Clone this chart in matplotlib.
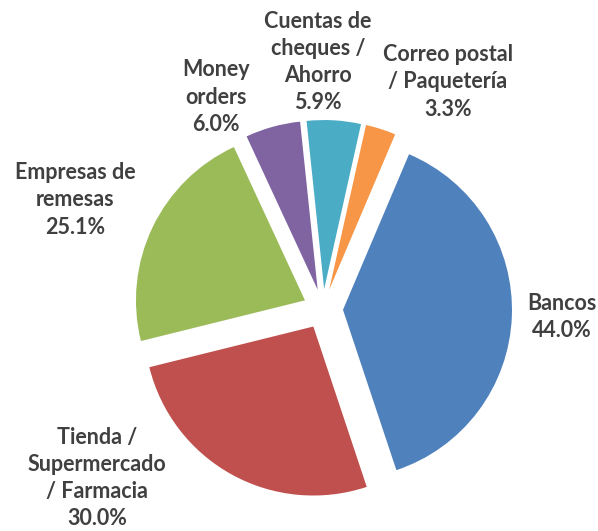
import matplotlib.pyplot as plt

# data
labels = ['Bancos', 'Tienda /\nSupermercado\n/ Farmacia', 'Empresas de\nremesas',
          'Money\norders', 'Cuentas de\ncheques /\nAhorro', 'Correo postal\n/ Paquetería']
values = [44.0, 30.0, 25.1, 6.0, 5.9, 3.3]
colors = ['#4F81BD', '#C0504D', '#9BBB59', '#8064A2', '#4BACC6', '#F79646']

# label centres in pixels (from top-left)
label_pos = [(562, 317), (97, 478), (75, 200), (216, 97), (318, 62), (448, 82)]

W, H = 598, 531
fig = plt.figure(figsize=(W / 100, H / 100), dpi=100)
ax = fig.add_axes([0, 0, 1, 1])

cx, cy, R = 323, 309, 169
ax.pie(values, colors=colors, startangle=67, counterclock=False,
       radius=R, center=(cx, H - cy), explode=[20] * len(values),
       wedgeprops=dict(linewidth=0))

for lab, v, (x, y) in zip(labels, values, label_pos):
    ax.text(x, H - y, '{}\n{:.1f}%'.format(lab, v), ha='center', va='center',
            fontsize=15.5, fontweight='bold', color='#404040',
            family=['Lato', 'DejaVu Sans'], linespacing=1.36)

ax.set_xlim(0, W)
ax.set_ylim(0, H)
ax.set_aspect('equal')
ax.axis('off')

fig.savefig('out.png', dpi=100)
